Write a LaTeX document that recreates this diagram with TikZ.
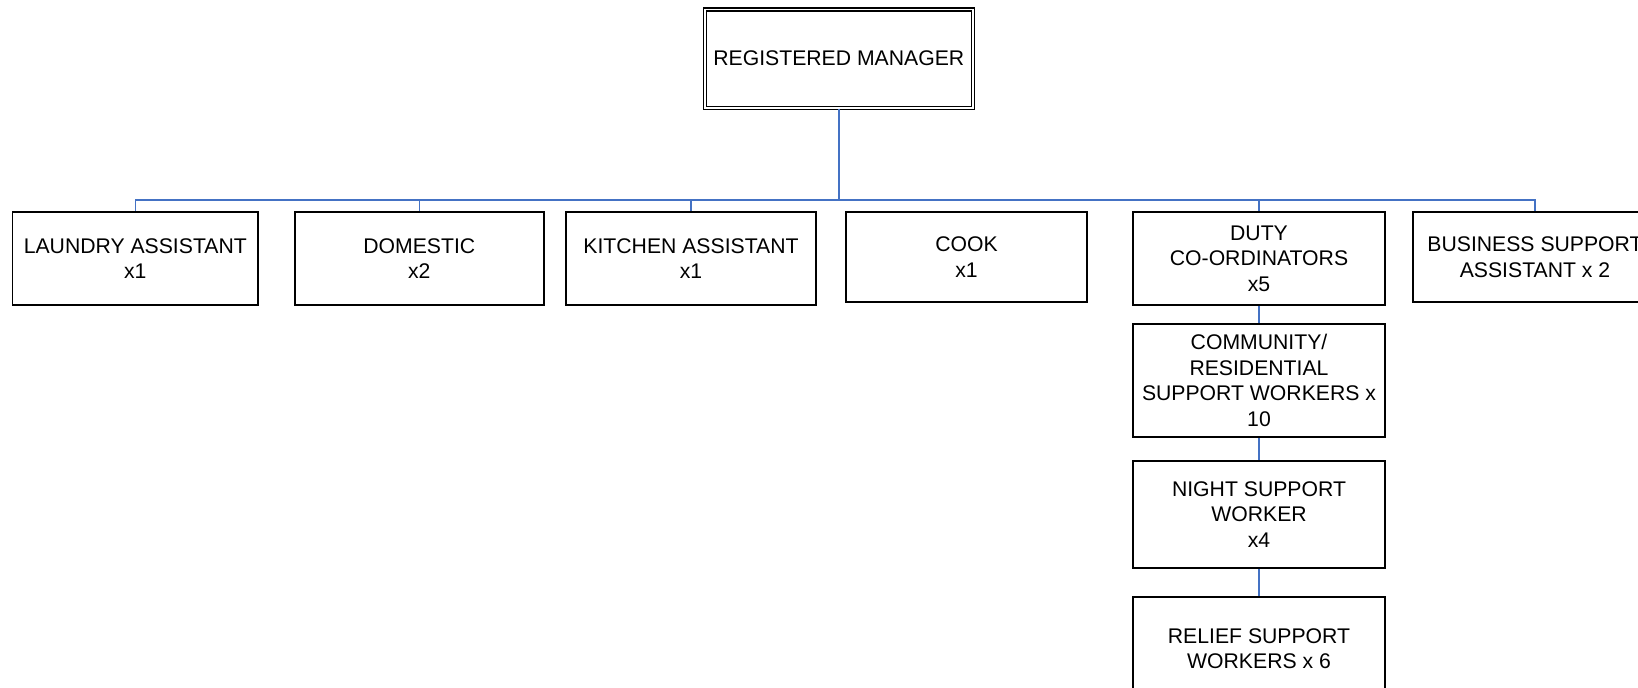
\documentclass[tikz,border=0pt]{standalone}
\usepackage{fontspec}
\setmainfont{Liberation Sans}
\definecolor{linkblue}{RGB}{68,114,196}
\tikzset{
  post/.style={draw=black,line width=0.8pt,align=center,inner sep=1pt,
    font=\fontsize{10.6}{12.75}\selectfont},
  topbox/.style={post,double,double distance=0.75pt,line width=0.75pt},
  link/.style={linkblue,line width=0.7pt}
}

\begin{document}
\begin{tikzpicture}[x=0.5pt,y=-0.5pt]
% Page frame (pixel grid, y downwards)
\useasboundingbox (0,0) rectangle (1638,688);
\clip (0,0) rectangle (1638,688);
% Top box
\node[topbox,minimum width=134pt,minimum height=49.25pt] (mgr) at (838.8,58.7) {REGISTERED MANAGER};
% First row
\node[post,minimum width=122.75pt,minimum height=46.5pt] (laundry) at (135.3,258.5) {LAUNDRY ASSISTANT\\x1};
\node[post,minimum width=124.5pt,minimum height=46.5pt] (domestic) at (419.3,258.5) {DOMESTIC\\x2};
\node[post,minimum width=125pt,minimum height=46.5pt] (kitchen) at (691,258.5) {KITCHEN ASSISTANT\\x1};
\node[post,minimum width=120.5pt,minimum height=45pt] (cook) at (966.5,257) {COOK\\x1};
\node[post,minimum width=126pt,minimum height=46.5pt] (duty) at (1259,258.5) {DUTY\\CO-ORDINATORS\\x5};
\node[post,minimum width=122pt,minimum height=45pt] (business) at (1535,257) {BUSINESS SUPPORT\\ASSISTANT x 2};
% Column under the co-ordinators
\node[post,minimum width=126pt,minimum height=56.5pt] (community) at (1259,380.5) {COMMUNITY/\\RESIDENTIAL\\SUPPORT WORKERS x\\10};
\node[post,minimum width=126pt,minimum height=53.5pt] (night) at (1259,514.5) {NIGHT SUPPORT\\WORKER\\x4};
\node[post,minimum width=126pt,minimum height=51.5pt] (relief) at (1259,648.5) {RELIEF SUPPORT\\WORKERS x 6};
% Connectors
\coordinate (bus) at (838.8,200);
\draw[link,line width=1.1pt] (mgr.south) -- (bus);
\foreach \n in {laundry,domestic,kitchen,duty,business}
  \draw[link] (bus) -| (\n.north);
\draw[link,line width=0.9pt] (bus) -- ++(-419.5,0);
\draw[link,line width=0.9pt] (bus) -- ++(420.2,0);
\draw[link] (duty.south) -- (community.north);
\draw[link] (community.south) -- (night.north);
\draw[link] (night.south) -- (relief.north);
\end{tikzpicture}
\end{document}
